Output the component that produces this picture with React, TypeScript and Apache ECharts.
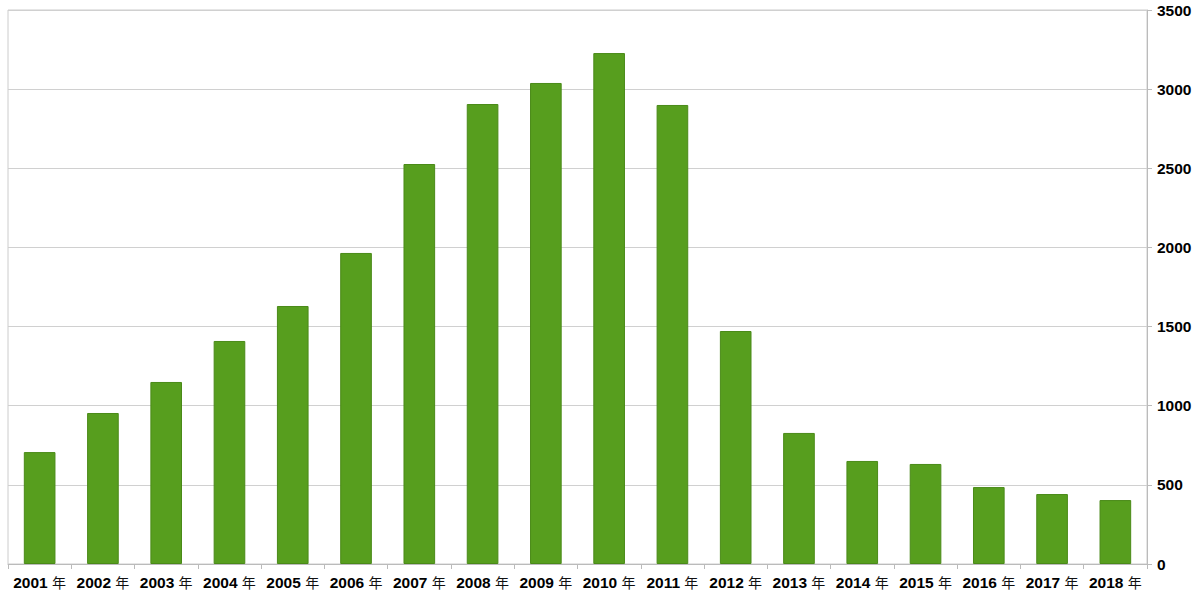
import React, { useEffect, useRef } from "react";
import * as echarts from "echarts";

const categories = ["2001 年", "2002 年", "2003 年", "2004 年", "2005 年", "2006 年", "2007 年", "2008 年", "2009 年", "2010 年", "2011 年", "2012 年", "2013 年", "2014 年", "2015 年", "2016 年", "2017 年", "2018 年"];
const values = [707, 954, 1150, 1409, 1630, 1965, 2527, 2906, 3039, 3228, 2900, 1472, 828, 651, 632, 486, 442, 404];
const yTicks = { min: 0, max: 3500, interval: 500 };

export default function App() {
  const ref = useRef<HTMLDivElement>(null);
  useEffect(() => {
    const chart = echarts.init(ref.current!, undefined, { renderer: "svg" });
    chart.setOption({
      animation: false,
      backgroundColor: "#ffffff",
      grid: { left: 8, right: 53, top: 10, bottom: 36, show: true, borderColor: "#cccccc", borderWidth: 1 },
      xAxis: {
        type: "category",
        data: categories,
        axisLine: { lineStyle: { color: "#bbbbbb" } },
        axisTick: { show: true, length: 5, interval: 0, lineStyle: { color: "#bbbbbb" } },
        axisLabel: {
          interval: 0,
          color: "#000000",
          fontWeight: "bold",
          fontSize: 15.5,
          fontFamily: "Liberation Sans, Arial, sans-serif",
          margin: 10,
          formatter: (v: string) => {
            const parts = v.split(" ");
            return "{y|" + parts[0] + " }{n|" + (parts[1] || "") + "}";
          },
          rich: {
            y: { color: "#000000", fontWeight: "bold", fontSize: 15.5, fontFamily: "Liberation Sans, Arial, sans-serif" },
            n: { color: "#111111", fontWeight: "normal", fontSize: 14, fontFamily: "Noto Sans CJK SC, sans-serif" },
          },
        },
      },
      yAxis: {
        type: "value",
        position: "right",
        min: yTicks.min,
        max: yTicks.max,
        interval: yTicks.interval,
        axisLine: { show: true, lineStyle: { color: "#bbbbbb" } },
        axisTick: { show: true, length: 5, lineStyle: { color: "#bbbbbb" } },
        splitLine: { lineStyle: { color: "#d0d0d0" } },
        axisLabel: { color: "#000000", fontWeight: "bold", fontSize: 15.5, fontFamily: "Liberation Sans, Arial, sans-serif", margin: 10, formatter: (v: number) => String(v) },
      },
      series: [
        {
          type: "bar",
          data: values,
          barWidth: "50%",
          itemStyle: { color: "#579e1e", borderColor: "#4a8a18", borderWidth: 1 },
        },
      ],
    });
    return () => chart.dispose();
  }, []);
  return <div ref={ref} style={{ width: 1200, height: 600, position: "absolute", left: 0, top: 0 }} />;
}
